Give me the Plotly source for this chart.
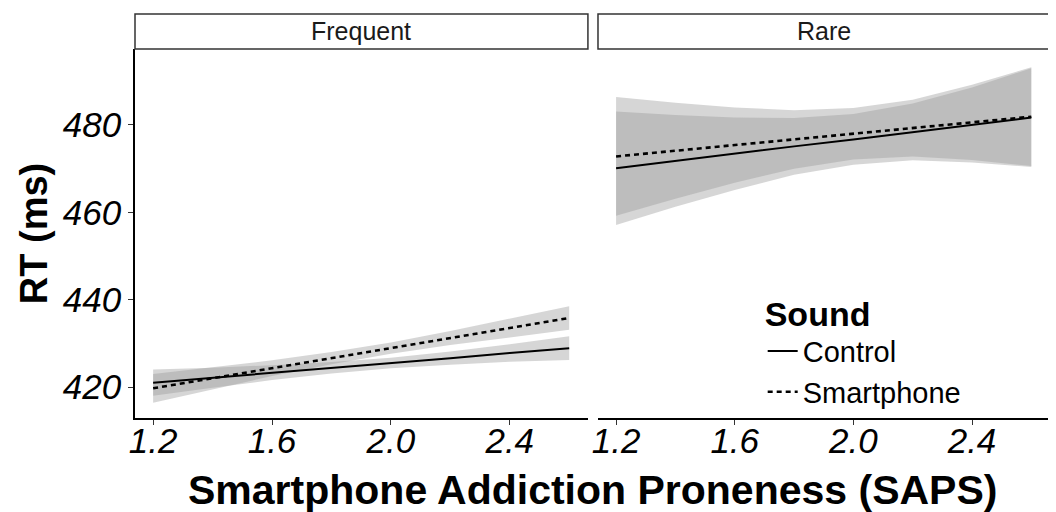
import plotly.graph_objects as go

# ---- data ----
saps = [1.2, 1.4, 1.6, 1.8, 2.0, 2.2, 2.4, 2.6]
panels = ["Frequent", "Rare"]
sounds = ["Control", "Smartphone"]

freq_control_fit = [421.0, 422.1, 423.3, 424.4, 425.5, 426.6, 427.8, 428.9]
freq_control_lo = [418.0, 419.8, 421.6, 423.1, 424.3, 425.1, 425.8, 426.2]
freq_control_hi = [424.0, 424.4, 425.0, 425.7, 426.7, 428.1, 429.8, 431.6]

freq_phone_fit = [419.7, 422.0, 424.3, 426.6, 428.9, 431.2, 433.5, 435.8]
freq_phone_lo = [416.4, 419.5, 422.5, 425.2, 427.6, 429.6, 431.4, 433.1]
freq_phone_hi = [423.0, 424.5, 426.1, 428.0, 430.2, 432.8, 435.6, 438.5]

rare_control_fit = [470.1, 471.8, 473.4, 475.1, 476.7, 478.4, 480.0, 481.7]
rare_control_lo = [457.1, 461.3, 465.1, 468.6, 470.9, 471.9, 471.4, 470.4]
rare_control_hi = [483.1, 482.3, 481.7, 481.6, 482.5, 484.9, 488.6, 493.0]

rare_phone_fit = [472.8, 474.1, 475.4, 476.7, 478.0, 479.3, 480.6, 481.9]
rare_phone_lo = [459.2, 463.1, 466.8, 470.0, 472.1, 472.8, 472.0, 470.6]
rare_phone_hi = [486.4, 485.1, 484.0, 483.4, 483.9, 485.8, 489.2, 493.2]

x_ticks = [1.2, 1.6, 2.0, 2.4]
y_ticks = [420, 440, 460, 480]

series = {
    ("Frequent", "Control"): (freq_control_fit, freq_control_lo, freq_control_hi),
    ("Frequent", "Smartphone"): (freq_phone_fit, freq_phone_lo, freq_phone_hi),
    ("Rare", "Control"): (rare_control_fit, rare_control_lo, rare_control_hi),
    ("Rare", "Smartphone"): (rare_phone_fit, rare_phone_lo, rare_phone_hi),
}

FONT = "Liberation Sans, Arial, sans-serif"
dash_of = {"Control": "solid", "Smartphone": "5px,4px"}
width_of = {"Control": 2, "Smartphone": 2.6}

fig = go.Figure()

# confidence bands first
for pi, panel in enumerate(panels):
    xa, ya = ("x", "y") if pi == 0 else ("x2", "y2")
    for s in sounds:
        fit, lo, hi = series[(panel, s)]
        fig.add_trace(go.Scatter(
            x=saps + saps[::-1], y=hi + lo[::-1],
            fill="toself", fillcolor="rgba(153,153,153,0.4)",
            line=dict(width=0), mode="lines",
            hoverinfo="skip", showlegend=False, xaxis=xa, yaxis=ya))

# fitted lines
for pi, panel in enumerate(panels):
    xa, ya = ("x", "y") if pi == 0 else ("x2", "y2")
    for s in sounds:
        fit, lo, hi = series[(panel, s)]
        fig.add_trace(go.Scatter(
            x=saps, y=fit, mode="lines", name=s, legendgroup=s,
            line=dict(color="black", width=width_of[s], dash=dash_of[s]),
            showlegend=(pi == 0), xaxis=xa, yaxis=ya))

tickfont = dict(family=FONT, size=35, color="black", style="italic")
xcommon = dict(range=[1.139, 2.663], tickvals=x_ticks, tickformat=".1f",
               showline=True, linecolor="black", linewidth=1.5,
               ticks="outside", ticklen=5, tickcolor="#333", tickwidth=1.2,
               tickfont=tickfont, showgrid=False, zeroline=False,
               automargin=False, ticklabelstandoff=-14)

# the page body has an 8px margin, so the figure is 8px smaller than the window
fig.update_layout(
    width=1048, height=504, autosize=False,
    margin=dict(l=127, r=6, t=41, b=94, autoexpand=False),
    paper_bgcolor="white", plot_bgcolor="white",
    font=dict(family=FONT, color="black"),
    xaxis=dict(domain=[0, 0.495], anchor="y", **xcommon),
    xaxis2=dict(domain=[0.506, 1], anchor="y2", **xcommon),
    yaxis=dict(domain=[0, 1], anchor="x", range=[412.9, 497.4], tickvals=y_ticks,
               showline=True, linecolor="black", linewidth=1.5,
               ticks="outside", ticklen=5, tickcolor="#333", tickwidth=1.2,
               tickfont=tickfont, showgrid=False, zeroline=False, automargin=False,
               title=dict(text="<b>RT (ms)</b>", font=dict(family=FONT, size=38),
                          standoff=4)),
    yaxis2=dict(domain=[0, 1], anchor="x2", matches="y", showline=False,
                showticklabels=False, ticks="", showgrid=False, zeroline=False,
                automargin=False),
    legend=dict(x=0.686, xanchor="left", y=0.37, yanchor="top",
                bgcolor="rgba(0,0,0,0)", font=dict(family=FONT, size=29),
                title=dict(text="<b>Sound</b>", font=dict(family=FONT, size=34)),
                tracegroupgap=0, itemwidth=30),
)

strip_top = 1 + 35 / 369
for (x0, x1), label in zip([(0, 0.495), (0.506, 1)], panels):
    fig.add_shape(type="rect", xref="paper", yref="paper", x0=x0, x1=x1,
                  y0=1, y1=strip_top, line=dict(color="#333", width=1.5),
                  fillcolor="white")
    fig.add_annotation(xref="paper", yref="paper", x=(x0 + x1) / 2,
                       y=(1 + strip_top) / 2, text=label, showarrow=False,
                       font=dict(family=FONT, size=25, color="#1a1a1a"),
                       xanchor="center", yanchor="middle")

fig.add_annotation(xref="paper", yref="paper", x=0.5, y=-0.195,
                   text="<b>Smartphone Addiction Proneness (SAPS)</b>",
                   showarrow=False, font=dict(family=FONT, size=41, color="black"),
                   xanchor="center", yanchor="middle")

fig.write_html("out.html")
